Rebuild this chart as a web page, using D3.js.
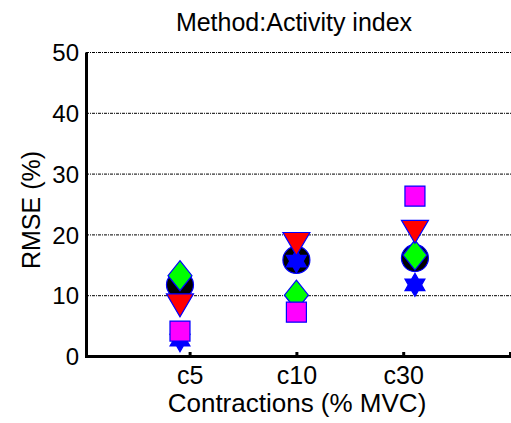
<!DOCTYPE html>
<html>
<head>
<meta charset="utf-8">
<script src="https://cdn.jsdelivr.net/npm/d3@7"></script>
<style>
  body { margin: 0; background: #fff; }
  text { font-family: "Liberation Sans", Arial, sans-serif; fill: #000; }
</style>
</head>
<body>
<div id="chart"></div>
<script>
// categories and where the markers sit on the x axis (in category units)
var categories = ['c5', 'c10', 'c30'];
var tickPos = [1, 2, 3];
var markerPos = [0.91, 2.0, 3.11];
var yTicks = [0, 10, 20, 30, 40, 50];

// RMSE (%) for each series
var circleVals = [11.7, 15.8, 16.1];
var starVals = [2.6, 15.6, 11.7];
var diamondVals = [13.2, 10.0, 16.6];
var squareVals = [4.1, 7.2, 26.3];
var triangleVals = [8.9, 19.0, 21.0];

var W = 511, H = 423;
var svg = d3.select('#chart').append('svg')
    .attr('width', W).attr('height', H);

var x = d3.scaleLinear().domain([0.03, 4]).range([86, 510]);
var y = d3.scaleLinear().domain([0, 50]).range([356, 52]);

// grid
svg.append('g').selectAll('line')
    .data(yTicks.slice(1))
    .enter().append('line')
    .attr('x1', x(0.03)).attr('x2', W)
    .attr('y1', function (d) { return y(d) + 0.5; })
    .attr('y2', function (d) { return y(d) + 0.5; })
    .attr('stroke', '#000')
    .attr('stroke-width', 1)
    .attr('stroke-dasharray', '3,1,1,1');

// y axis
var yAxis = svg.append('g')
    .attr('transform', 'translate(' + x(0.03) + ',0)')
    .call(d3.axisLeft(y).tickValues(yTicks).tickSize(0).tickPadding(7));
yAxis.select('.domain').attr('stroke', '#000').attr('stroke-width', 3);
yAxis.selectAll('text').style('font-size', '24px').attr('dy', '0.36em');

// x axis
var xAxis = svg.append('g')
    .attr('transform', 'translate(0,' + y(0) + ')')
    .call(d3.axisBottom(x).tickValues(tickPos.concat([4]))
        .tickFormat(function (d, i) { return categories[i] || ''; })
        .tickSize(-4).tickPadding(10));
xAxis.select('.domain').attr('stroke', '#000').attr('stroke-width', 3);
xAxis.selectAll('.tick line').attr('stroke', '#000').attr('stroke-width', 3);
xAxis.selectAll('text').style('font-size', '25px');

// titles
svg.append('text').attr('x', 294).attr('y', 31)
    .attr('text-anchor', 'middle').style('font-size', '25px')
    .text('Method:Activity index');
svg.append('text').attr('x', 297).attr('y', 412)
    .attr('text-anchor', 'middle').style('font-size', '26px')
    .text('Contractions (% MVC)');
svg.append('text')
    .attr('transform', 'translate(40,210) rotate(-90)')
    .attr('text-anchor', 'middle').style('font-size', '25px')
    .text('RMSE (%)');

// marker shapes
function starPath(r) {
    var pts = [];
    for (var i = 0; i < 12; i++) {
        var a = Math.PI / 6 * i - Math.PI / 2;
        var rr = i % 2 === 0 ? r : r * 0.58;
        pts.push([rr * Math.cos(a), rr * Math.sin(a)]);
    }
    return 'M' + pts.join('L') + 'Z';
}
var shapes = {
    circle: 'M13.5,0A13.5,13.5 0 1,1 -13.5,0A13.5,13.5 0 1,1 13.5,0Z',
    star: starPath(11.5),
    diamond: 'M0,-15L12,0L0,15L-12,0Z',
    square: 'M-10,-10L10,-10L10,10L-10,10Z',
    triangle: 'M-13.5,-8L13.5,-8L0,15Z'
};

var series = [
    { vals: circleVals, shape: 'circle', fill: '#000' },
    { vals: starVals, shape: 'star', fill: '#0000ff' },
    { vals: diamondVals, shape: 'diamond', fill: '#00ff00' },
    { vals: squareVals, shape: 'square', fill: '#ff00ff' },
    { vals: triangleVals, shape: 'triangle', fill: '#ff0000' }
];

series.forEach(function (s) {
    svg.append('g').selectAll('path')
        .data(s.vals)
        .enter().append('path')
        .attr('d', shapes[s.shape])
        .attr('transform', function (d, i) {
            return 'translate(' + x(markerPos[i]) + ',' + y(d) + ')';
        })
        .attr('fill', s.fill)
        .attr('stroke', '#0000ff')
        .attr('stroke-width', 1.2);
});
</script>
</body>
</html>
